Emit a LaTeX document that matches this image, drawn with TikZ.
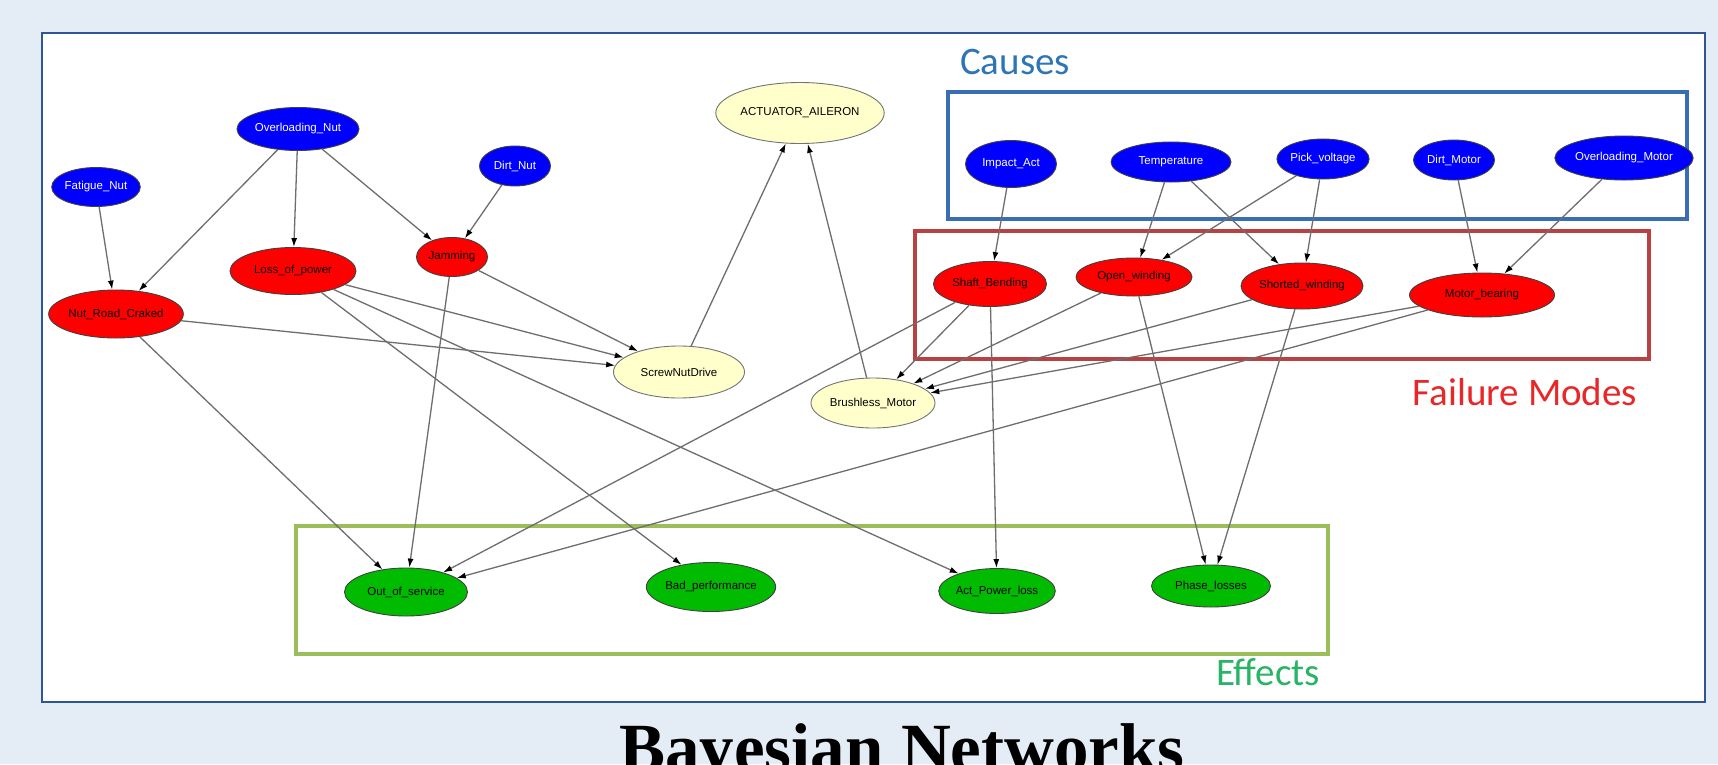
\documentclass[tikz,border=0pt]{standalone}
\usepackage{fontspec}
\setmainfont{Liberation Serif}
\setsansfont{Liberation Sans}
\newfontfamily\groupfont{Carlito}
\usetikzlibrary{shapes.geometric,arrows.meta}
\definecolor{pagebg}{RGB}{228,236,245}
\definecolor{panelblue}{RGB}{47,85,151}
\definecolor{causenode}{RGB}{0,0,255}
\definecolor{failnode}{RGB}{255,0,0}
\definecolor{effectnode}{RGB}{0,187,0}
\definecolor{systemnode}{RGB}{255,255,204}
\definecolor{causebox}{RGB}{58,110,180}
\definecolor{failbox}{RGB}{185,65,65}
\definecolor{effectbox}{RGB}{155,190,90}
\definecolor{causetext}{RGB}{46,117,182}
\definecolor{failtext}{RGB}{232,40,40}
\definecolor{effecttext}{RGB}{40,180,100}
\definecolor{edgegray}{RGB}{110,110,110}
\tikzset{
  bn/.style={ellipse, draw=black!75, line width=0.9pt, inner sep=0pt,
    font=\sffamily\fontsize{11.5}{12}\selectfont},
  cause/.style={bn, fill=causenode, text=white},
  fail/.style={bn, fill=failnode},
  effect/.style={bn, fill=effectnode},
  system/.style={bn, fill=systemnode, draw=black!55},
  link/.style={draw=edgegray, line width=1.3pt, -{Latex[length=9pt,width=6pt,black]}},
  groupbox/.style={line width=3.5pt},
  grouplabel/.style={font=\groupfont\fontsize{39}{40}\selectfont}
}

\begin{document}
\begin{tikzpicture}[x=1pt, y=-1pt]
    \useasboundingbox (0,0) rectangle (1718,764);
    \fill[pagebg] (0,0) rectangle (1718,764);
    \draw[panelblue, line width=2pt, fill=white] (42,33) rectangle (1705,702);

    % group frames
    \draw[groupbox, causebox] (948,92) rectangle (1687,219);
    \draw[groupbox, failbox] (915,231) rectangle (1649,359);
    \draw[groupbox, effectbox] (296,526) rectangle (1328,654);
    \node[grouplabel, text=causetext] (causesLbl) at (1015,62) {Causes};
    \node[grouplabel, text=failtext] (failLbl) at (1525,392) {Failure Modes};
    \node[grouplabel, text=effecttext] (effectsLbl) at (1268,672) {Effects};

    % screw-nut side
    \node[cause, minimum width=97pt, minimum height=43pt] (overNut) at (298,129) {Overloading\_Nut};
    \node[cause, minimum width=70pt, minimum height=39pt] (fatigueNut) at (96,187) {Fatigue\_Nut};
    \node[cause, minimum width=71pt, minimum height=40pt] (dirtNut) at (515,166) {Dirt\_Nut};
    \node[fail, minimum width=126pt, minimum height=47pt] (lossPower) at (293,271) {Loss\_of\_power};
    \node[fail, minimum width=71pt, minimum height=39pt] (jamming) at (452,257) {Jamming};
    \node[fail, minimum width=117pt, minimum height=48pt] (nutRoad) at (116,314) {Nut\_Road\_Craked};

    % system
    \node[system, minimum width=140pt, minimum height=61pt] (actuator) at (800,113) {ACTUATOR\_AILERON};
    \node[system, minimum width=131pt, minimum height=52pt] (screwNut) at (679,372) {ScrewNutDrive};
    \node[system, minimum width=124pt, minimum height=50pt] (brushless) at (873,403) {Brushless\_Motor};

    % motor side
    \node[cause, minimum width=91pt, minimum height=47pt] (impactAct) at (1011,164) {Impact\_Act};
    \node[cause, minimum width=120pt, minimum height=40pt] (temperature) at (1171,162) {Temperature};
    \node[cause, minimum width=81pt, minimum height=40pt] (pickVolt) at (1323,159) {Pick\_voltage};
    \node[cause, minimum width=81pt, minimum height=40pt] (dirtMotor) at (1454,160) {Dirt\_Motor};
    \node[cause, minimum width=123pt, minimum height=44pt] (overMotor) at (1624,158) {Overloading\_Motor};
    \node[fail, minimum width=113pt, minimum height=45pt] (shaftBend) at (990,284) {Shaft\_Bending};
    \node[fail, minimum width=116pt, minimum height=38pt] (openWind) at (1134,277) {Open\_winding};
    \node[fail, minimum width=122pt, minimum height=46pt] (shortWind) at (1302,286) {Shorted\_winding};
    \node[fail, minimum width=145pt, minimum height=44pt] (motorBear) at (1482,295) {Motor\_bearing};

    % effects
    \node[effect, minimum width=123pt, minimum height=48pt] (outService) at (406,592) {Out\_of\_service};
    \node[effect, minimum width=122pt, minimum height=49pt] (badPerf) at (711,587) {Bad\_performance};
    \node[effect, minimum width=109pt, minimum height=45pt] (actPower) at (997,591) {Act\_Power\_loss};
    \node[effect, minimum width=119pt, minimum height=42pt] (phaseLoss) at (1211,586) {Phase\_losses};

    % arcs
    \foreach \from/\to in {fatigueNut/nutRoad, overNut/nutRoad, overNut/lossPower, overNut/jamming,
        dirtNut/jamming, nutRoad/screwNut, lossPower/screwNut, jamming/screwNut,
        screwNut/actuator, brushless/actuator, nutRoad/outService, jamming/outService,
        lossPower/badPerf, lossPower/actPower, shaftBend/outService, motorBear/outService,
        shaftBend/actPower, shaftBend/brushless, openWind/brushless, shortWind/brushless,
        motorBear/brushless, openWind/phaseLoss, shortWind/phaseLoss, impactAct/shaftBend,
        temperature/openWind, temperature/shortWind, pickVolt/openWind, pickVolt/shortWind,
        dirtMotor/motorBear, overMotor/motorBear}
        \draw[link] (\from) -- (\to);

    \node[font=\bfseries\fontsize{69}{70}\selectfont, anchor=base] (title) at (902,771) {Bayesian Networks};
\end{tikzpicture}
\end{document}
